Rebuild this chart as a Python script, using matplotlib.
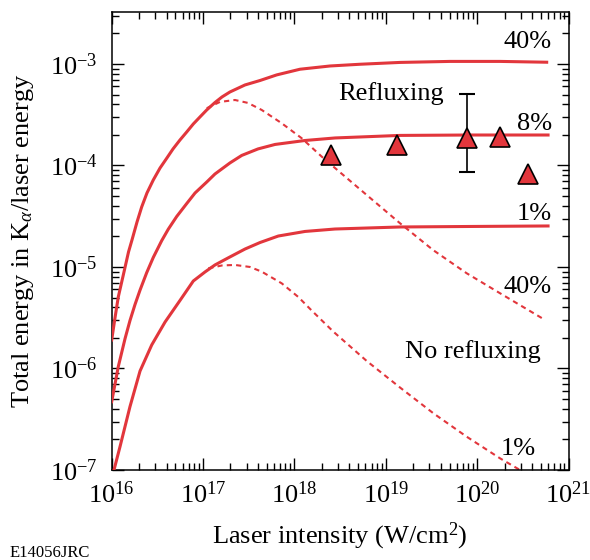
#!/usr/bin/env python3

# Total K-alpha energy / laser energy vs laser intensity, with and without refluxing.
# Usage:
# python3 plot.py

import numpy as np
import matplotlib
matplotlib.use("Agg")
import matplotlib.pyplot as plt
from matplotlib.ticker import LogLocator, NullFormatter

plt.rcParams['font.family'] = ['Liberation Serif', 'DejaVu Serif']
plt.rcParams['mathtext.fontset'] = 'custom'
plt.rcParams['mathtext.rm'] = 'Liberation Serif'
plt.rcParams['mathtext.it'] = 'Liberation Serif:italic'

# curves as log10 values
# refluxing, 40% conversion
refl40_logI = [16.002, 16.038, 16.074, 16.129, 16.186, 16.224, 16.279, 16.330, 16.388, 16.457,
               16.531, 16.604, 16.673, 16.749, 16.823, 16.895, 16.968, 17.042, 17.133, 17.209,
               17.296, 17.460, 17.625, 17.807, 18.062, 18.391, 18.719, 19.156, 19.704, 20.251,
               20.761]
refl40_logE = [-5.719, -5.502, -5.296, -5.079, -4.852, -4.734, -4.557, -4.409, -4.271, -4.143,
               -4.025, -3.929, -3.837, -3.749, -3.670, -3.591, -3.522, -3.453, -3.379, -3.325,
               -3.276, -3.207, -3.163, -3.108, -3.052, -3.020, -3.003, -2.985, -2.975, -2.975,
               -2.983]
# refluxing, 8%
refl8_logI = [16.002, 16.074, 16.148, 16.202, 16.257, 16.312, 16.385, 16.457, 16.549, 16.621,
              16.713, 16.823, 16.914, 17.042, 17.132, 17.296, 17.425, 17.603, 17.789, 18.117,
              18.446, 19.156, 19.922, 20.776]
refl8_logE = [-6.327, -5.982, -5.706, -5.528, -5.370, -5.228, -5.056, -4.906, -4.741, -4.628,
              -4.503, -4.375, -4.271, -4.163, -4.084, -3.975, -3.901, -3.837, -3.793, -3.754,
              -3.729, -3.704, -3.700, -3.700]
# refluxing, 1%
refl1_logI = [16.027, 16.093, 16.202, 16.312, 16.440, 16.586, 16.749, 16.895, 17.023, 17.132,
              17.223, 17.296, 17.461, 17.625, 17.825, 18.117, 18.445, 19.156, 19.922, 20.776]
refl1_logE = [-7.000, -6.770, -6.376, -6.025, -5.768, -5.542, -5.330, -5.138, -5.049, -4.980,
              -4.936, -4.901, -4.823, -4.759, -4.695, -4.650, -4.626, -4.606, -4.601, -4.596]
# no refluxing, 40%
norefl40_logI = [17.042, 17.187, 17.351, 17.493, 17.643, 17.862, 18.081, 18.300, 18.445, 18.792,
                 19.156, 19.518, 19.886, 20.251, 20.743]
norefl40_logE = [-3.436, -3.374, -3.355, -3.384, -3.453, -3.584, -3.732, -3.913, -4.025, -4.291,
                 -4.569, -4.833, -5.062, -5.259, -5.522]
# no refluxing, 1%
norefl1_logI = [17.059, 17.209, 17.351, 17.515, 17.643, 17.862, 18.044, 18.190, 18.427, 18.792,
                19.156, 19.521, 19.886, 20.251, 20.469]
norefl1_logE = [-5.013, -4.985, -4.980, -5.000, -5.046, -5.161, -5.296, -5.429, -5.637, -5.926,
                -6.187, -6.441, -6.672, -6.885, -7.000]

# measured points
meas_I = [2.5e18, 1.34e19, 7.7e19, 1.8e20, 3.6e20]
meas_E = [1.26e-4, 1.60e-4, 1.87e-4, 1.92e-4, 8.2e-5]
err_I = 7.7e19
err_lo = 8.7e-5
err_hi = 5.06e-4

red = '#e2363c'

fig = plt.figure(figsize=(5.9, 5.6), dpi=100)
ax = fig.add_axes([0.189, 0.1607, 0.7746, 0.8179])

def curve(logI, logE, **kw):
    ax.plot(10.0**np.array(logI), 10.0**np.array(logE), color=red, **kw)

curve(refl40_logI, refl40_logE, lw=2.2, zorder=3)
curve(refl8_logI, refl8_logE, lw=2.2, zorder=3)
curve(refl1_logI, refl1_logE, lw=2.2, zorder=3)
curve(norefl40_logI, norefl40_logE, lw=1.5, ls=(0, (2.5, 2)), zorder=2)
curve(norefl1_logI, norefl1_logE, lw=1.5, ls=(0, (2.5, 2)), zorder=2)

ax.plot([err_I, err_I], [err_lo, err_hi], color='black', lw=1.2, zorder=4)
ax.plot([err_I, err_I], [err_lo, err_hi], color='black', lw=0, marker='_', ms=11, mew=1.5, zorder=4)
ax.plot(meas_I, meas_E, ls='none', marker='^', ms=14, mfc=red, mec='black', mew=1.2, zorder=5)

ax.set_xscale('log')
ax.set_yscale('log')
ax.set_xlim(1e16, 1e21)
ax.set_ylim(1e-7, 3.25e-3)

ax.xaxis.set_major_locator(LogLocator(base=10, numticks=10))
ax.xaxis.set_minor_locator(LogLocator(base=10, subs=np.arange(2, 10), numticks=20))
ax.yaxis.set_major_locator(LogLocator(base=10, numticks=10))
ax.yaxis.set_minor_locator(LogLocator(base=10, subs=np.arange(2, 10), numticks=20))
ax.xaxis.set_minor_formatter(NullFormatter())
ax.yaxis.set_minor_formatter(NullFormatter())

ax.tick_params(which='both', direction='in', top=True, right=True, width=1.0, labelsize=19)
ax.tick_params(which='major', length=8.5)
ax.tick_params(which='minor', length=5)
ax.tick_params(axis='x', pad=8)
ax.tick_params(axis='y', pad=10)
for s in ax.spines.values():
    s.set_linewidth(1.1)

ax.set_xlabel('Laser intensity (W/cm$^2$)', fontsize=19)
ax.set_ylabel(r'Total energy in K$_\alpha$/laser energy', fontsize=19)
ax.xaxis.set_label_coords(0.5, -0.11)
ax.yaxis.set_label_coords(-0.165, 0.5)

tr = ax.transAxes
ax.text(0.4956, 0.808, 'Refluxing', transform=tr, fontsize=19, ha='left', va='baseline')
ax.text(0.9639, 0.9208, '40%', transform=tr, fontsize=19, ha='right', va='baseline')
ax.text(0.9639, 0.7424, '8%', transform=tr, fontsize=19, ha='right', va='baseline')
ax.text(0.9639, 0.5459, '1%', transform=tr, fontsize=19, ha='right', va='baseline')
ax.text(0.9639, 0.3858, '40%', transform=tr, fontsize=19, ha='right', va='baseline')
ax.text(0.9398, 0.2439, 'No refluxing', transform=tr, fontsize=19, ha='right', va='baseline')
ax.text(0.9289, 0.0328, '1%', transform=tr, fontsize=19, ha='right', va='baseline')

fig.text(10 / 590, 0.0054, 'E14056JRC', fontsize=12, ha='left', va='baseline')

fig.savefig('out.png', dpi=100)
